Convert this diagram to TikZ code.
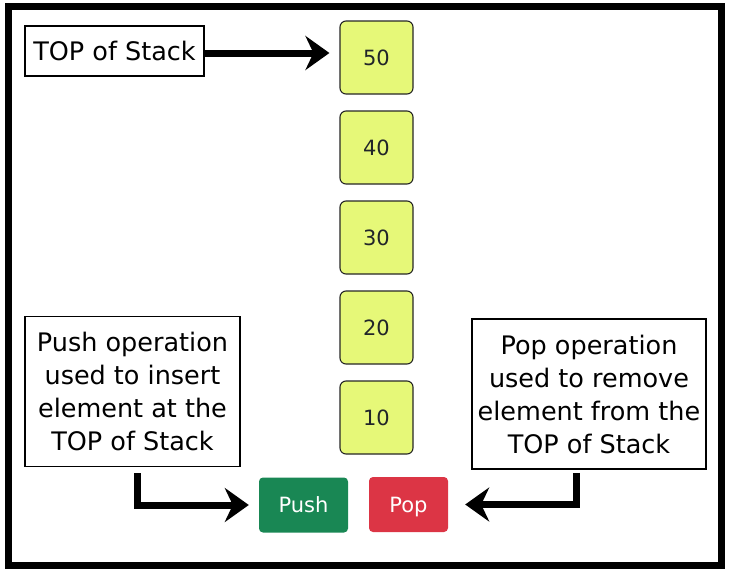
\documentclass[tikz,border=0pt]{standalone}
\usepackage{fontspec}
\setmainfont{DejaVu Sans}
\usetikzlibrary{arrows.meta}
\definecolor{cellfill}{RGB}{230,248,120}
\definecolor{celltext}{RGB}{33,37,41}
\definecolor{pushgreen}{RGB}{25,135,84}
\definecolor{popred}{RGB}{220,53,69}
\begin{document}
\begin{tikzpicture}[x=1pt,y=-1pt,
	note/.style={draw=black, line width=1.6pt, fill=white, align=center, inner sep=0pt, font=\fontsize{25.5}{33}\selectfont},
	cell/.style={draw=black!85, line width=1.1pt, fill=cellfill, rounded corners=6pt, minimum width=73pt, minimum height=73pt, text=celltext, text height=15pt, text depth=0pt, font=\fontsize{21}{24}\selectfont},
	button/.style={rounded corners=4pt, text=white, minimum height=55pt, text height=16pt, text depth=1pt, font=\fontsize{21}{24}\selectfont},
	bigarrow/.style={line width=7pt, -{Stealth[length=24pt,width=34pt,inset=8pt]}}]
	\useasboundingbox (0,0) rectangle (729,574);
	\draw[line width=7pt] (8,6.5) rectangle (721,565); %marco
	\node[note, minimum width=179pt, minimum height=50pt] (topnote) at (114.5,51) {TOP of Stack};
	\foreach \v [count=\i] in {50,40,30,20,10}
		\node[cell] (c\v) at (376.5,{57.5+90*(\i-1)}) {\v}; %pila
	\draw[bigarrow, shorten >=10pt] ([yshift=-2]topnote.east) -- ([yshift=-2]topnote.east -| c50.west);
	\node[note, minimum width=215pt, minimum height=150pt] (pushnote) at (132.5,391.5) {Push operation\\used to insert\\element at the\\TOP of Stack};
	\node[note, minimum width=234pt, minimum height=150pt] (popnote) at (589,394) {Pop operation\\used to remove\\element from the\\TOP of Stack};
	\node[button, fill=pushgreen, minimum width=89pt] (pushbtn) at (303.5,505) {Push};
	\node[button, fill=popred, minimum width=79pt] (popbtn) at (408.5,504.5) {Pop};
	\draw[bigarrow, shorten <=6pt, shorten >=10pt] ([xshift=5]pushnote.south) |- (pushbtn.west); %push
	\draw[bigarrow, shorten <=3pt, shorten >=17pt] ([xshift=-13]popnote.south) |- (popbtn.east); %pop
\end{tikzpicture}
\end{document}
